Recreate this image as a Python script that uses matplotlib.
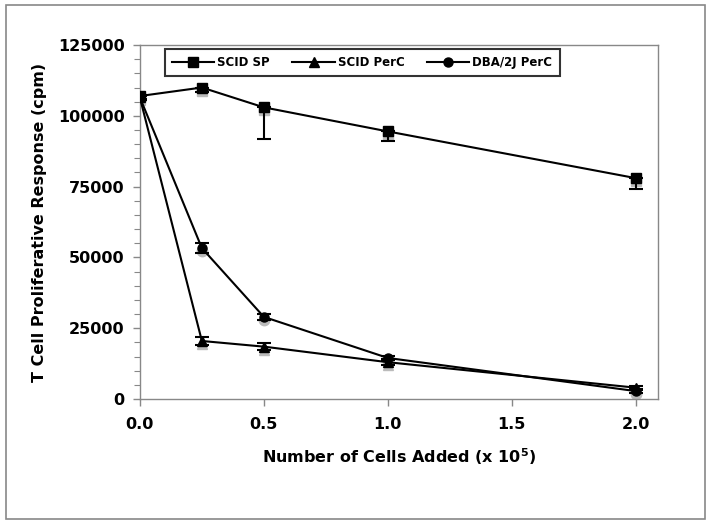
import matplotlib
matplotlib.use("Agg")
import matplotlib.pyplot as plt
import matplotlib.transforms as mtransforms
from matplotlib.lines import Line2D
from matplotlib.patches import Rectangle
from matplotlib.ticker import MultipleLocator, FormatStrFormatter

# data
cells = [0.0, 0.25, 0.5, 1.0, 2.0]

scid_sp = [107000, 110000, 103000, 94500, 78000]
scid_sp_lo = [1000, 1500, 11000, 3500, 3800]
scid_sp_hi = [0, 0, 0, 0, 0]

scid_perc = [106500, 20500, 18500, 13000, 4000]
scid_perc_err = [1000, 1500, 1300, 1000, 600]

dba_perc = [106500, 53300, 29000, 14500, 2800]
dba_perc_err = [1000, 1700, 1000, 800, 500]

series = [
    ("SCID SP", scid_sp, [scid_sp_lo, scid_sp_hi], "s"),
    ("SCID PerC", scid_perc, scid_perc_err, "^"),
    ("DBA/2J PerC", dba_perc, dba_perc_err, "o"),
]

fig = plt.figure(figsize=(7.1, 5.24), dpi=100)
ax = fig.add_axes([0.197, 0.2385, 0.730, 0.6755])

# grey frame round the whole figure
fig.patches.append(Rectangle((0.0085, 0.0095), 0.984, 0.981, transform=fig.transFigure,
                             fill=False, edgecolor="#888888", linewidth=1.2))

shadow = mtransforms.offset_copy(ax.transData, fig=fig, x=0.5, y=-3, units="dots")

handles = []
for name, vals, err, mk in series:
    # soft grey drop shadow under the markers
    ax.plot(cells, vals, linestyle="none", marker=mk, markersize=7.5,
            color="#bbbbbb", transform=shadow, zorder=2)
    ax.errorbar(cells, vals, yerr=err, color="black", marker=mk, markersize=6.5,
                linewidth=1.5, elinewidth=1.5, capsize=5, capthick=1.5, zorder=3)
    handles.append(Line2D([], [], color="black", marker=mk, markersize=6.5,
                          linewidth=1.5, label=name))

ax.set_xlim(0, 2.09)
ax.set_ylim(0, 125000)
ax.xaxis.set_major_locator(MultipleLocator(0.5))
ax.xaxis.set_major_formatter(FormatStrFormatter("%.1f"))
ax.yaxis.set_major_locator(MultipleLocator(25000))
ax.yaxis.set_minor_locator(MultipleLocator(5000))

for s in ax.spines.values():
    s.set_color("#888888")
    s.set_linewidth(1.0)

ax.tick_params(axis="both", which="both", direction="out", color="#888888")
ax.tick_params(axis="both", which="major", length=5, width=1.0, pad=6)
ax.tick_params(axis="y", which="minor", length=4, width=0.8)
ax.tick_params(axis="x", which="major", pad=8)

for lbl in ax.get_xticklabels() + ax.get_yticklabels():
    lbl.set_fontsize(11.5)
    lbl.set_fontweight("bold")

ax.set_xlabel("Number of Cells Added (x 10$^\\mathbf{5}$)", fontsize=11.5,
              fontweight="bold", labelpad=10)
ax.set_ylabel("T Cell Proliferative Response (cpm)", fontsize=11.5,
              fontweight="bold", labelpad=8)

leg = ax.legend(handles=handles, loc="upper left", bbox_to_anchor=(0.048, 0.99),
                borderaxespad=0, ncol=3, frameon=True, fancybox=False,
                handlelength=3.6, columnspacing=1.9, borderpad=0.6,
                handletextpad=0.25, prop={"weight": "bold", "size": 8.5})
leg.get_frame().set_edgecolor("black")
leg.get_frame().set_linewidth(1.5)

fig.savefig("out.png", dpi=100)
